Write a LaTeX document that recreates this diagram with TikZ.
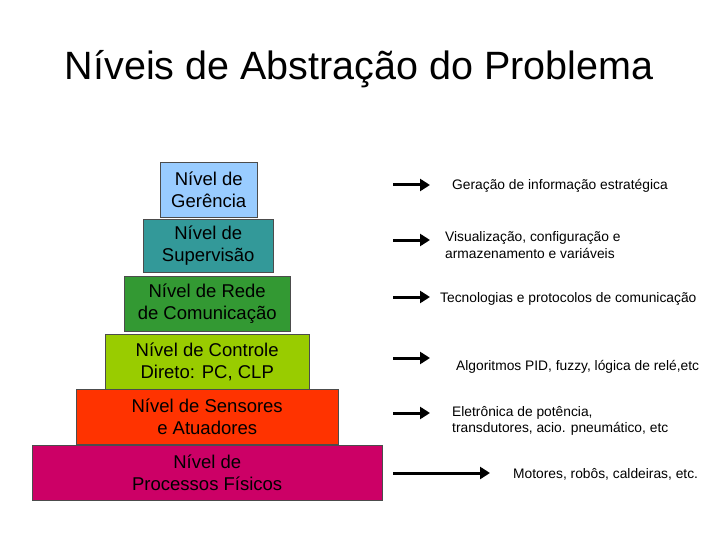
\documentclass[tikz,border=0pt]{standalone}
\usepackage{fontspec}
\setmainfont{Liberation Sans}
\usetikzlibrary{arrows.meta}
\definecolor{cA}{HTML}{99CCFF}
\definecolor{cB}{HTML}{339999}
\definecolor{cC}{HTML}{339933}
\definecolor{cD}{HTML}{99CC00}
\definecolor{cE}{HTML}{FF3300}
\definecolor{cF}{HTML}{CC0066}
\tikzset{
 lvl/.style={draw=black!70,inner sep=0pt,font=\fontsize{18.5}{22}\selectfont,align=center,anchor=north west},
 arr/.style={line width=3pt,-{Triangle[length=10pt,width=12pt]}},
 desc/.style={font=\fontsize{13.8}{16.5}\selectfont,align=left,anchor=west,inner sep=0pt}
}
\begin{document}
\begin{tikzpicture}[x=1pt,y=-1pt]
\useasboundingbox (0,0) rectangle (720,540);
\node[font=\fontsize{39.5}{44}\selectfont] (title) at (359,69) {Níveis de Abstração do Problema};
\node[lvl,fill=cA,minimum width=97pt,minimum height=55pt] (a) at (160,162) {Nível de\\Gerência};
\node[lvl,fill=cB,minimum width=130pt,minimum height=53pt] (b) at (143,219) {Nível de\\Supervisão};
\node[lvl,fill=cC,minimum width=166pt,minimum height=55pt] (c) at (124,276) {Nível de Rede\\de Comunicação};
\node[lvl,fill=cD,minimum width=204pt,minimum height=55pt] (d) at (105,334) {Nível de Controle\\Direto: PC, CLP};
\node[lvl,fill=cE,minimum width=262pt,minimum height=55pt] (e) at (76,389) {Nível de Sensores\\e Atuadores};
\node[lvl,fill=cF,minimum width=350pt,minimum height=55pt] (f) at (32,445) {Nível de\\Processos Físicos};
\coordinate (a1) at (393,185); \coordinate (a2) at (430,185);
\coordinate (b1) at (393,240); \coordinate (b2) at (430,240);
\coordinate (c1) at (393,297); \coordinate (c2) at (430,297);
\coordinate (d1) at (393,358); \coordinate (d2) at (430,358);
\coordinate (e1) at (393,413); \coordinate (e2) at (430,413);
\coordinate (f1) at (393,473); \coordinate (f2) at (490,473);
\foreach \p in {a,b,c,d,e,f} \draw[arr] (\p1) -- (\p2);
\node[desc] (ta) at (452,186) {Geração de informação estratégica};
\node[desc] (tb) at (445,245) {Visualização, configuração e\\armazenamento e variáveis};
\node[desc] (tc) at (440,299) {Tecnologias e protocolos de comunicação};
\node[desc] (td) at (456,367) {Algoritmos PID, fuzzy, lógica de relé,etc};
\node[desc] (te) at (452,421) {Eletrônica de potência,\\transdutores, acio. pneumático, etc};
\node[desc] (tf) at (513,474) {Motores, robôs, caldeiras, etc.};
\end{tikzpicture}
\end{document}
